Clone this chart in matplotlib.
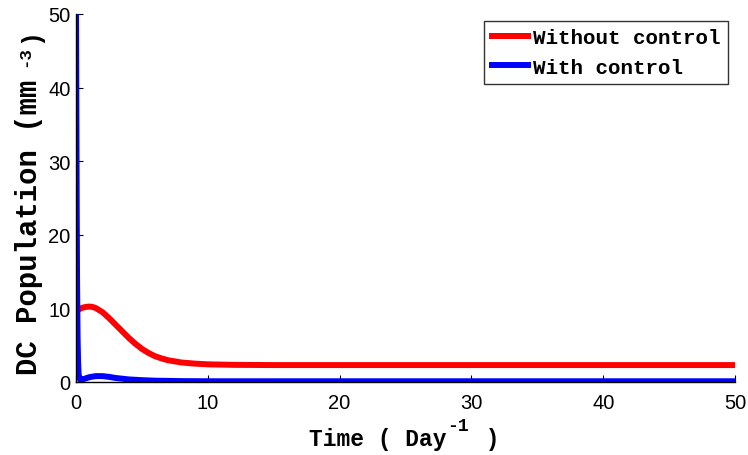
import matplotlib
matplotlib.use("Agg")
import matplotlib.pyplot as plt

# DC population without control
t_nc = [0, 0.25, 0.5, 0.75, 1.0, 1.25, 1.5, 2.0, 2.5, 3.0, 3.5, 4.0, 4.5, 5.0,
        5.5, 6.0, 6.5, 7.0, 7.5, 8.0, 9.0, 10, 12, 15, 20, 30, 40, 50]
dc_nc = [9.6, 9.9, 10.1, 10.2, 10.25, 10.2, 10.05, 9.5, 8.7, 7.8, 6.9, 6.0, 5.2, 4.5,
         3.95, 3.5, 3.2, 2.95, 2.8, 2.65, 2.5, 2.4, 2.33, 2.3, 2.3, 2.3, 2.3, 2.3]

# DC population with control
t_c = [0, 0.02, 0.05, 0.08, 0.12, 0.16, 0.2, 0.3, 0.5, 0.75, 1.0, 1.5, 2.0, 2.5,
       3.0, 3.5, 4.0, 5.0, 6.0, 8.0, 10, 20, 30, 40, 50]
dc_c = [50, 40, 25, 14, 6, 2.5, 1.0, 0.35, 0.35, 0.5, 0.65, 0.8, 0.8, 0.7,
        0.55, 0.45, 0.35, 0.25, 0.18, 0.12, 0.1, 0.1, 0.1, 0.1, 0.1]

xticks = [0, 10, 20, 30, 40, 50]
yticks = [0, 10, 20, 30, 40, 50]

W, H = 748, 456
fig = plt.figure(figsize=(W / 100, H / 100), dpi=100)
ax = fig.add_axes([76 / W, 1 - 383 / H, (735 - 76) / W, (383 - 15) / H])

ax.plot(t_nc, dc_nc, color='#ff0000', lw=4.3, label='Without control', solid_joinstyle='round')
ax.plot(t_c, dc_c, color='#0000ff', lw=4.3, label='With control', solid_joinstyle='round')

ax.set_xlim(0, 50)
ax.set_ylim(0, 50)
ax.set_xticks(xticks)
ax.set_yticks(yticks)
ax.spines['top'].set_visible(False)
ax.spines['right'].set_visible(False)
for s in ('left', 'bottom'):
    ax.spines[s].set_linewidth(1.0)
ax.tick_params(direction='in', length=5, width=0.8, labelsize=14.5)
ax.tick_params(axis='x', pad=8)
ax.tick_params(axis='y', pad=4)
for lab in ax.get_xticklabels() + ax.get_yticklabels():
    lab.set_fontfamily('Liberation Sans')


def px(x, y_top):
    """Pixel position (from top-left) to figure fraction."""
    return x / W, 1 - y_top / H


mono = dict(family='Liberation Mono', weight='bold')

# x-axis label with raised exponent
fig.text(*px(309, 446), 'Time ( Day', fontsize=16.5, ha='left', va='baseline', **mono)
fig.text(*px(447, 431), '-1', fontsize=13, ha='left', va='baseline', **mono)
fig.text(*px(472, 446), ' )', fontsize=16.5, ha='left', va='baseline', **mono)

# y-axis label with raised exponent
fig.text(*px(37, 375), 'DC Population (mm', fontsize=20.8, rotation=90,
         rotation_mode='anchor', ha='left', va='baseline', **mono)
fig.text(*px(29, 67), '-3', fontsize=12.5, rotation=90,
         rotation_mode='anchor', ha='left', va='baseline', **mono)
fig.text(*px(37, 43), ')', fontsize=18, rotation=90,
         rotation_mode='anchor', ha='left', va='baseline', **mono)

leg = ax.legend(loc='upper right', bbox_to_anchor=((728 - 76) / 659, (383 - 22) / 368),
                prop={'family': 'Liberation Mono', 'weight': 'bold', 'size': 15},
                frameon=True, fancybox=False, handlelength=1.75, handletextpad=0.25,
                borderpad=0.35, labelspacing=0.5, borderaxespad=0.0)
leg.get_frame().set_edgecolor('black')
leg.get_frame().set_linewidth(1.0)
for h in leg.get_lines():
    h.set_linewidth(4.3)

fig.savefig('out.png', dpi=100)
